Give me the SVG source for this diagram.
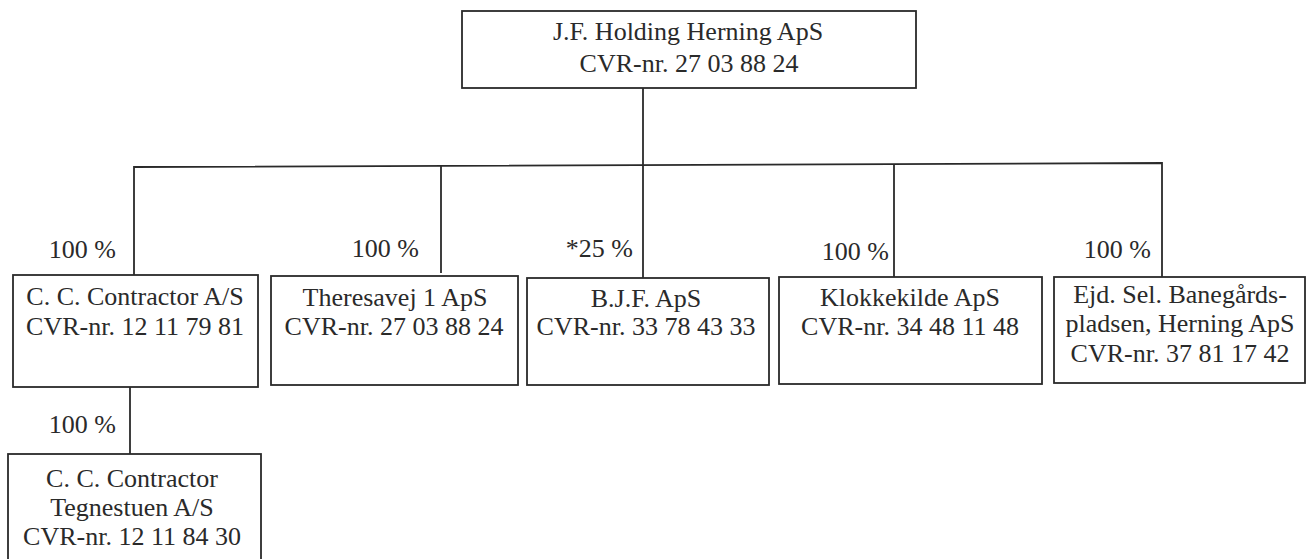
<svg xmlns="http://www.w3.org/2000/svg" width="1311" height="559" viewBox="0 0 1311 559">
<style>
.box{fill:#fff;stroke:#2a2a2a;stroke-width:1.8}
.ln{fill:none;stroke:#2a2a2a;stroke-width:1.8}
text{font-size:26px;fill:#2a2a2a}
.c{text-anchor:middle}
.e{text-anchor:end}
</style>
<rect width="1311" height="559" fill="#fff"/>
<g font-family="'Liberation Serif', 'DejaVu Serif', serif">
<g id="connectors">
<polyline class="ln" points="134,275 134,167 1162,163 1162,277"/>
<line class="ln" x1="643" y1="88" x2="643" y2="278"/>
<line class="ln" x1="441" y1="165" x2="441" y2="273"/>
<line class="ln" x1="894" y1="164" x2="894" y2="277"/>
<line class="ln" x1="130" y1="387" x2="130" y2="454"/>
<text class="e" x="116" y="258">100 %</text>
<text class="e" x="419" y="257">100 %</text>
<text class="e" x="633" y="257">*25 %</text>
<text class="e" x="889" y="260">100 %</text>
<text class="e" x="1151" y="258">100 %</text>
<text class="e" x="116" y="433">100 %</text>
</g>
<g id="jf-holding">
<rect class="box" x="462" y="11" width="454" height="77"/>
<text class="c" x="688" y="40">J.F. Holding Herning ApS</text>
<text class="c" x="689" y="72">CVR-nr. 27 03 88 24</text>
</g>
<g id="cc-contractor">
<rect class="box" x="13" y="275" width="245" height="112"/>
<text class="c" x="135" y="305">C. C. Contractor A/S</text>
<text class="c" x="135" y="335">CVR-nr. 12 11 79 81</text>
</g>
<g id="theresavej">
<rect class="box" x="271" y="276" width="247" height="109"/>
<text class="c" x="395" y="306">Theresavej 1 ApS</text>
<text class="c" x="394" y="335">CVR-nr. 27 03 88 24</text>
</g>
<g id="bjf">
<rect class="box" x="527" y="278" width="242" height="107"/>
<text class="c" x="646" y="307">B.J.F. ApS</text>
<text class="c" x="646" y="335">CVR-nr. 33 78 43 33</text>
</g>
<g id="klokkekilde">
<rect class="box" x="779" y="277" width="263" height="107"/>
<text class="c" x="910" y="306">Klokkekilde ApS</text>
<text class="c" x="910" y="335">CVR-nr. 34 48 11 48</text>
</g>
<g id="ejd-sel">
<rect class="box" x="1054" y="277" width="251" height="106"/>
<text class="c" x="1180" y="303">Ejd. Sel. Banegårds-</text>
<text class="c" x="1180" y="332">pladsen, Herning ApS</text>
<text class="c" x="1180" y="362">CVR-nr. 37 81 17 42</text>
</g>
<g id="cc-tegnestuen">
<rect class="box" x="8" y="454" width="253" height="112"/>
<text class="c" x="132" y="487">C. C. Contractor</text>
<text class="c" x="132" y="516">Tegnestuen A/S</text>
<text class="c" x="132" y="545">CVR-nr. 12 11 84 30</text>
</g>
</g>
</svg>
